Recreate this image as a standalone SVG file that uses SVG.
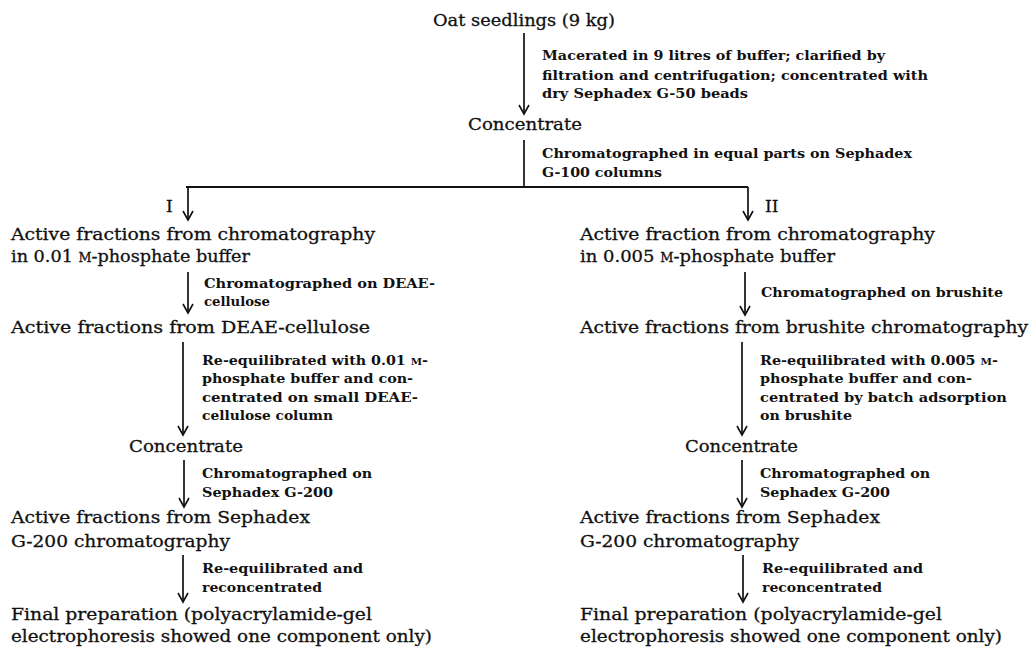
<svg xmlns="http://www.w3.org/2000/svg" width="1032" height="648" viewBox="0 0 1032 648">
<style>
.n{font-family:"DejaVu Serif","Liberation Serif",serif;font-size:17px;fill:#111;stroke:#111;stroke-width:0.3}
.l{font-family:"DejaVu Serif","Liberation Serif",serif;font-size:13.2px;font-weight:bold;fill:#111}
.sc{font-size:0.72em}
.c line{stroke:#111;stroke-width:1.7;fill:none}
.c line.a{marker-end:url(#ah)}
</style>
<defs>
<marker id="ah" markerUnits="userSpaceOnUse" markerWidth="14" markerHeight="14" viewBox="-10 -7 12 14" refX="0" refY="0" orient="auto">
<path d="M-9,-5 L0,0 L-9,5" fill="none" stroke="#111" stroke-width="1.6"/>
</marker>
</defs>
<rect width="1032" height="648" fill="#fff"/>
<g id="connectors" class="c">
<line class="a" x1="524" y1="33" x2="524" y2="114"/>
<line x1="524" y1="140" x2="524" y2="187"/>
<line x1="186" y1="187" x2="748" y2="187" style="stroke-width:2"/>
<line class="a" x1="188" y1="187" x2="188" y2="220"/>
<line class="a" x1="748" y1="187" x2="748" y2="220"/>
<line class="a" x1="188" y1="272" x2="188" y2="313"/>
<line class="a" x1="183" y1="342" x2="183" y2="435"/>
<line class="a" x1="184" y1="460" x2="184" y2="507"/>
<line class="a" x1="183" y1="555" x2="183" y2="602"/>
<line class="a" x1="745" y1="272" x2="745" y2="315"/>
<line class="a" x1="742" y1="342" x2="742" y2="435"/>
<line class="a" x1="742" y1="460" x2="742" y2="507"/>
<line class="a" x1="743" y1="555" x2="743" y2="602"/>
</g>
<g id="edge-labels">
<g id="lbl-macerate">
<text class="l" x="542" y="60" textLength="343" lengthAdjust="spacingAndGlyphs">Macerated in 9 litres of buffer; clarified by</text>
<text class="l" x="542" y="80" textLength="386" lengthAdjust="spacingAndGlyphs">filtration and centrifugation; concentrated with</text>
<text class="l" x="542" y="98" textLength="206" lengthAdjust="spacingAndGlyphs">dry Sephadex G-50 beads</text>
</g>
<g id="lbl-g100">
<text class="l" x="542" y="158" textLength="370" lengthAdjust="spacingAndGlyphs">Chromatographed in equal parts on Sephadex</text>
<text class="l" x="542" y="177" textLength="120" lengthAdjust="spacingAndGlyphs">G-100 columns</text>
</g>
<g id="lbl-deae">
<text class="l" x="204" y="288" textLength="231" lengthAdjust="spacingAndGlyphs">Chromatographed on DEAE-</text>
<text class="l" x="204" y="306" textLength="66" lengthAdjust="spacingAndGlyphs">cellulose</text>
</g>
<g id="lbl-reeq1">
<text class="l" x="202" y="365" textLength="226" lengthAdjust="spacingAndGlyphs">Re-equilibrated with 0.01 <tspan class="sc">M</tspan>-</text>
<text class="l" x="202" y="383" textLength="211" lengthAdjust="spacingAndGlyphs">phosphate buffer and con-</text>
<text class="l" x="202" y="402" textLength="216" lengthAdjust="spacingAndGlyphs">centrated on small DEAE-</text>
<text class="l" x="202" y="420" textLength="131" lengthAdjust="spacingAndGlyphs">cellulose column</text>
</g>
<g id="lbl-g200-left">
<text class="l" x="202" y="478" textLength="170" lengthAdjust="spacingAndGlyphs">Chromatographed on</text>
<text class="l" x="202" y="497" textLength="131" lengthAdjust="spacingAndGlyphs">Sephadex G-200</text>
</g>
<g id="lbl-reconc-left">
<text class="l" x="202" y="573" textLength="161" lengthAdjust="spacingAndGlyphs">Re-equilibrated and</text>
<text class="l" x="202" y="592" textLength="120" lengthAdjust="spacingAndGlyphs">reconcentrated</text>
</g>
<g id="lbl-brushite">
<text class="l" x="761" y="297" textLength="242" lengthAdjust="spacingAndGlyphs">Chromatographed on brushite</text>
</g>
<g id="lbl-reeq2">
<text class="l" x="760" y="365" textLength="238" lengthAdjust="spacingAndGlyphs">Re-equilibrated with 0.005 <tspan class="sc">M</tspan>-</text>
<text class="l" x="760" y="383" textLength="212" lengthAdjust="spacingAndGlyphs">phosphate buffer and con-</text>
<text class="l" x="760" y="402" textLength="247" lengthAdjust="spacingAndGlyphs">centrated by batch adsorption</text>
<text class="l" x="760" y="420" textLength="92" lengthAdjust="spacingAndGlyphs">on brushite</text>
</g>
<g id="lbl-g200-right">
<text class="l" x="760" y="478" textLength="170" lengthAdjust="spacingAndGlyphs">Chromatographed on</text>
<text class="l" x="760" y="497" textLength="130" lengthAdjust="spacingAndGlyphs">Sephadex G-200</text>
</g>
<g id="lbl-reconc-right">
<text class="l" x="762" y="573" textLength="161" lengthAdjust="spacingAndGlyphs">Re-equilibrated and</text>
<text class="l" x="762" y="592" textLength="120" lengthAdjust="spacingAndGlyphs">reconcentrated</text>
</g>
<text id="lbl-I" class="n" x="166" y="212">I</text>
<text id="lbl-II" class="n" x="765" y="212">II</text>
</g>
<g id="node-oat"><text class="n" x="433" y="26" textLength="182" lengthAdjust="spacingAndGlyphs">Oat seedlings (9 kg)</text></g>
<g id="node-concentrate"><text class="n" x="468" y="130" textLength="114" lengthAdjust="spacingAndGlyphs">Concentrate</text></g>
<g id="node-L1">
<text class="n" x="11" y="240" textLength="364" lengthAdjust="spacingAndGlyphs">Active fractions from chromatography</text>
<text class="n" x="11" y="262" textLength="239" lengthAdjust="spacingAndGlyphs">in 0.01 <tspan class="sc">M</tspan>-phosphate buffer</text>
</g>
<g id="node-L2"><text class="n" x="11" y="333" textLength="359" lengthAdjust="spacingAndGlyphs">Active fractions from DEAE-cellulose</text></g>
<g id="node-L3"><text class="n" x="129" y="452" textLength="114" lengthAdjust="spacingAndGlyphs">Concentrate</text></g>
<g id="node-L4">
<text class="n" x="11" y="523" textLength="299" lengthAdjust="spacingAndGlyphs">Active fractions from Sephadex</text>
<text class="n" x="11" y="547" textLength="219" lengthAdjust="spacingAndGlyphs">G-200 chromatography</text>
</g>
<g id="node-L5">
<text class="n" x="11" y="620" textLength="361" lengthAdjust="spacingAndGlyphs">Final preparation (polyacrylamide-gel</text>
<text class="n" x="11" y="642" textLength="421" lengthAdjust="spacingAndGlyphs">electrophoresis showed one component only)</text>
</g>
<g id="node-R1">
<text class="n" x="580" y="240" textLength="355" lengthAdjust="spacingAndGlyphs">Active fraction from chromatography</text>
<text class="n" x="580" y="262" textLength="255" lengthAdjust="spacingAndGlyphs">in 0.005 <tspan class="sc">M</tspan>-phosphate buffer</text>
</g>
<g id="node-R2"><text class="n" x="580" y="333" textLength="448" lengthAdjust="spacingAndGlyphs">Active fractions from brushite chromatography</text></g>
<g id="node-R3"><text class="n" x="685" y="452" textLength="113" lengthAdjust="spacingAndGlyphs">Concentrate</text></g>
<g id="node-R4">
<text class="n" x="580" y="523" textLength="300" lengthAdjust="spacingAndGlyphs">Active fractions from Sephadex</text>
<text class="n" x="580" y="547" textLength="219" lengthAdjust="spacingAndGlyphs">G-200 chromatography</text>
</g>
<g id="node-R5">
<text class="n" x="580" y="620" textLength="362" lengthAdjust="spacingAndGlyphs">Final preparation (polyacrylamide-gel</text>
<text class="n" x="580" y="642" textLength="422" lengthAdjust="spacingAndGlyphs">electrophoresis showed one component only)</text>
</g>
</svg>
